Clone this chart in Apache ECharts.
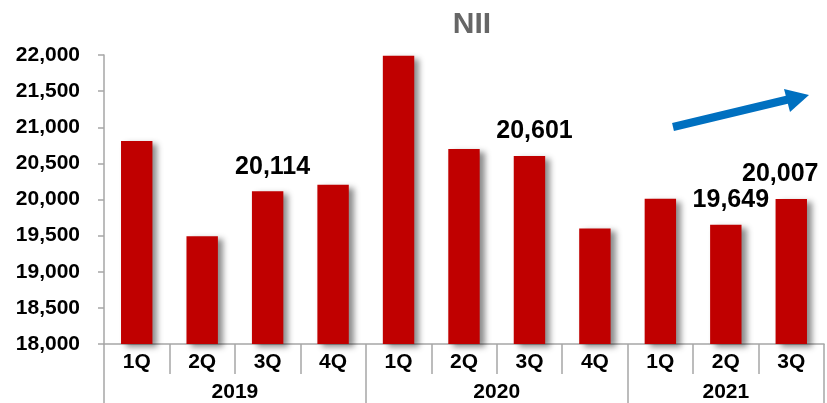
<!DOCTYPE html>
<html>
<head>
<meta charset="utf-8">
<script src="https://cdn.jsdelivr.net/npm/echarts@6/dist/echarts.min.js"></script>
<style>
  html, body { margin: 0; padding: 0; background: #fff; }
  #chart { width: 827px; height: 403px; }
</style>
</head>
<body>
<div id="chart"></div>
<script>
// quarters and NII values
const quarters = ['1Q', '2Q', '3Q', '4Q', '1Q', '2Q', '3Q', '4Q', '1Q', '2Q', '3Q']
const nii = [20810, 19490, 20114, 20205, 21990, 20700, 20601, 19600, 20010, 19649, 20007]
// only some bars carry a value label
const showValue = [false, false, true, false, false, false, true, false, false, true, true]
// year groups: label and middle position (in quarter units)
const years = ['2019', '2020', '2021']
const yearMiddle = [2, 6, 9.5]
const yearStart = [0, 4, 8]

const font = 'Liberation Sans, Arial, sans-serif'
const gray = '#a6a6a6'

const chart = echarts.init(document.getElementById('chart'))

const barData = nii.map((v, i) => {
  const item = { value: v }
  if (showValue[i]) {
    // last label is pushed left so it stays inside the picture
    item.label = { show: true, offset: i === nii.length - 1 ? [-11, 0] : [5, 0] }
  }
  return item
})

const option = {
  animation: false,
  title: {
    text: 'NII',
    left: 467,
    top: 5,
    textAlign: 'center',
    textStyle: { color: '#666666', fontSize: 30, fontWeight: 'bold', fontFamily: font }
  },
  grid: { left: 104, top: 55, width: 726, bottom: 58 },
  xAxis: [
    {
      type: 'category',
      data: quarters,
      axisLine: { show: true, lineStyle: { color: gray, width: 1.5 } },
      axisTick: { show: true, interval: 0, length: 30, lineStyle: { color: gray, width: 1.5 } },
      axisLabel: { interval: 0, margin: 8, color: '#000', fontSize: 21, fontWeight: 'bold', fontFamily: font }
    },
    {
      // dividers between the year groups
      type: 'category',
      position: 'bottom',
      data: quarters,
      axisLine: { show: false },
      axisTick: {
        show: true,
        length: 60,
        interval: (idx) => yearStart.includes(idx),
        lineStyle: { color: gray, width: 1.5 }
      },
      axisLabel: { show: false }
    },
    {
      // year labels centred under each group
      type: 'value',
      position: 'bottom',
      min: 0,
      max: quarters.length,
      interval: 0.5,
      axisLine: { show: false },
      axisTick: { show: false },
      splitLine: { show: false },
      axisLabel: {
        margin: 38,
        showMinLabel: true,
        showMaxLabel: true,
        color: '#000',
        fontSize: 21,
        fontWeight: 'bold',
        fontFamily: font,
        formatter: (v) => {
          const k = yearMiddle.indexOf(v)
          return k >= 0 ? years[k] : ''
        }
      }
    }
  ],
  yAxis: {
    type: 'value',
    min: 18000,
    max: 22000,
    interval: 500,
    axisLine: { show: true, lineStyle: { color: gray, width: 1.5 } },
    axisTick: { show: true, length: 6, lineStyle: { color: gray, width: 1.5 } },
    splitLine: { show: false },
    axisLabel: {
      margin: 24,
      color: '#000',
      fontSize: 21,
      fontWeight: 'bold',
      fontFamily: font,
      formatter: (v) => v.toLocaleString('en-US')
    }
  },
  series: [{
    type: 'bar',
    xAxisIndex: 0,
    barWidth: '48%',
    data: barData,
    itemStyle: {
      color: '#c00000',
      shadowColor: 'rgba(0,0,0,0.45)',
      shadowBlur: 6,
      shadowOffsetX: 5,
      shadowOffsetY: 3
    },
    label: {
      show: false,
      position: 'top',
      distance: 12,
      color: '#000',
      fontSize: 25,
      fontWeight: 'bold',
      fontFamily: font,
      formatter: (p) => p.value.toLocaleString('en-US')
    }
  }],
  graphic: [
    {
      type: 'line',
      shape: { x1: 673, y1: 127, x2: 790, y2: 99 },
      style: { stroke: '#0070c0', lineWidth: 8 }
    },
    {
      type: 'polygon',
      shape: { points: [[809, 95], [790, 112], [784, 89]] },
      style: { fill: '#0070c0' }
    }
  ]
}

chart.setOption(option)
</script>
</body>
</html>
